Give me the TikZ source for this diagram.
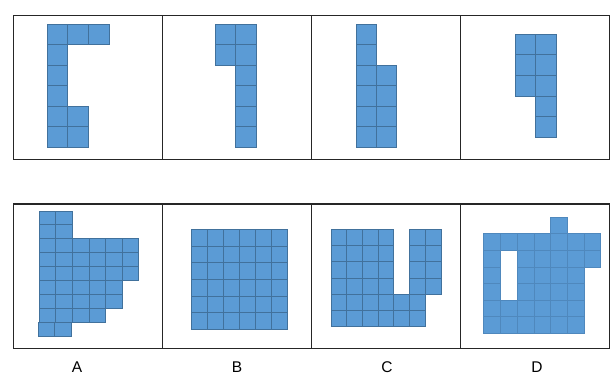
\documentclass[tikz,border=0pt]{standalone}
\usepackage{fontspec}
\setmainfont{Liberation Sans}
\definecolor{cellfill}{HTML}{5B9BD5}
\definecolor{celledge}{HTML}{41719C}
\definecolor{celledgeD}{HTML}{4F88BD}
\definecolor{framec}{HTML}{262626}
\newcommand{\cellgrid}[6]{% style, ox, oy, w, h, list of i/j
  \foreach \ci/\cj in {#6} {
    \draw[#1] ({#2+\ci*#4},{#3+\cj*#5}) rectangle ++(#4,#5);
  }}
\begin{document}
\begin{tikzpicture}[x=1pt,y=-1pt,
  cellsq/.style={fill=cellfill,draw=celledge,line width=0.9pt},
  cellsqD/.style={fill=cellfill,draw=celledgeD,line width=0.6pt},
  frameline/.style={draw=framec,line width=1.2pt},
  lab/.style={font=\fontsize{15.5}{18}\selectfont,text=black}]
\useasboundingbox (0,0) rectangle (615,381);
\fill[white] (0,0) rectangle (615,381);
% frames
\draw[frameline] (13.3,15.3) rectangle (609.3,159.3);
\foreach \xx in {162.7,311.3,460.3} \draw[frameline] (\xx,15.3) -- (\xx,159.3);
\draw[frameline] (13.3,204) rectangle (609.3,348.3);
\foreach \xx in {162.7,311.3,460.3} \draw[frameline] (\xx,204) -- (\xx,348.3);
% top row shapes
\cellgrid{cellsq}{47.3}{24.3}{20.6}{20.5}{0/0,1/0,2/0,0/1,0/2,0/3,0/4,1/4,0/5,1/5}
\cellgrid{cellsq}{215.3}{24.3}{20.5}{20.5}{0/0,1/0,0/1,1/1,1/2,1/3,1/4,1/5}
\cellgrid{cellsq}{356}{24.3}{20.3}{20.5}{0/0,0/1,0/2,1/2,0/3,1/3,0/4,1/4,0/5,1/5}
\cellgrid{cellsq}{515}{34}{20.8}{20.7}{0/0,1/0,0/1,1/1,0/2,1/2,1/3,1/4}
% A
\cellgrid{cellsq}{39.3}{211}{16.57}{13.9}{0/0,1/0,0/1,1/1,
  0/2,1/2,2/2,3/2,4/2,5/2,0/3,1/3,2/3,3/3,4/3,5/3,0/4,1/4,2/4,3/4,4/4,5/4,
  0/5,1/5,2/5,3/5,4/5,0/6,1/6,2/6,3/6,4/6,0/7,1/7,2/7,3/7}
\cellgrid{cellsq}{38.3}{211}{16.57}{13.9}{0/8,1/8}
% B
\cellgrid{cellsq}{191}{229.3}{16.05}{16.67}{0/0,1/0,2/0,3/0,4/0,5/0,0/1,1/1,2/1,3/1,4/1,5/1,
  0/2,1/2,2/2,3/2,4/2,5/2,0/3,1/3,2/3,3/3,4/3,5/3,0/4,1/4,2/4,3/4,4/4,5/4,0/5,1/5,2/5,3/5,4/5,5/5}
% C
\cellgrid{cellsq}{331}{229.3}{15.71}{16.23}{0/0,1/0,2/0,3/0,5/0,6/0,0/1,1/1,2/1,3/1,5/1,6/1,
  0/2,1/2,2/2,3/2,5/2,6/2,0/3,1/3,2/3,3/3,5/3,6/3,0/4,1/4,2/4,3/4,4/4,5/4,0/5,1/5,2/5,3/5,4/5,5/5}
% D
\cellgrid{cellsqD}{483.7}{233.7}{16.71}{16.6}{4/-1,0/0,1/0,2/0,3/0,4/0,5/0,6/0,
  0/1,2/1,3/1,4/1,5/1,6/1,0/2,2/2,3/2,4/2,5/2,0/3,2/3,3/3,4/3,5/3,
  0/4,1/4,2/4,3/4,4/4,5/4,0/5,1/5,2/5,3/5,4/5,5/5}
% labels
\node[lab] (la) at (77,367) {A};
\node[lab] (lb) at (237,367) {B};
\node[lab] (lc) at (387,367) {C};
\node[lab] (ld) at (537,367) {D};
\end{tikzpicture}
\end{document}
